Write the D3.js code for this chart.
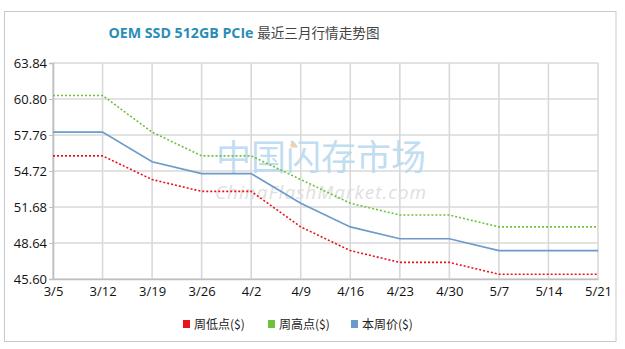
<!DOCTYPE html>
<html>
<head>
<meta charset="utf-8">
<script src="https://cdn.jsdelivr.net/npm/d3@7"></script>
<style>
  html, body { margin: 0; padding: 0; background: #fff; }
  svg { display: block; }
</style>
</head>
<body>
<svg id="chart" width="625" height="349"></svg>
<script>
// Weekly dates and prices (USD)
const dates = ["3/5","3/12","3/19","3/26","4/2","4/9","4/16","4/23","4/30","5/7","5/14","5/21"];
const weekLow  = [56, 56, 54, 53, 53, 50, 48, 47, 47, 46, 46, 46];
const weekHigh = [61.1, 61.1, 58, 56, 56, 54, 52, 51, 51, 50, 50, 50];
const thisWeek = [58, 58, 55.5, 54.5, 54.5, 52, 50, 49, 49, 48, 48, 48];
const yTicks = [45.60, 48.64, 51.68, 54.72, 57.76, 60.80, 63.84];

const series = [
  { name: "周低点($)", values: weekLow,  color: "#e8141b", dash: "2,2", width: 1.6 },
  { name: "周高点($)", values: weekHigh, color: "#6cc23a", dash: "2,2", width: 1.6 },
  { name: "本周价($)", values: thisWeek, color: "#6b9acb", dash: null,  width: 1.6 }
];

const svg = d3.select("#chart");
const plotLeft = 53, plotRight = 598, plotTop = 63, plotBottom = 279;

// outer frame
svg.append("rect")
  .attr("x", 4.5).attr("y", 11.5).attr("width", 611.5).attr("height", 330)
  .attr("fill", "none").attr("stroke", "#c9c9c9").attr("stroke-width", 1);

// title
const title = svg.append("text")
  .attr("x", 244).attr("y", 38).attr("text-anchor", "middle");
title.append("tspan").text("OEM SSD 512GB PCIe ")
  .attr("fill", "#2a8db6").style("font-weight", "bold")
  .style("font-size", "14.2px")
  .style("font-family", "'Open Sans', 'Noto Sans', sans-serif");
title.append("tspan").text("最近三月行情走势图")
  .attr("fill", "#444").style("font-size", "13.6px")
  .style("font-family", "'Noto Sans CJK SC', sans-serif");

const x = d3.scalePoint().domain(dates).range([plotLeft, plotRight]);
const y = d3.scaleLinear().domain([45.60, 63.84]).range([plotBottom, plotTop]);

// gridlines
const grid = svg.append("g");
grid.selectAll("line.h").data(yTicks).join("line").attr("class", "h")
  .attr("x1", plotLeft).attr("x2", plotRight)
  .attr("y1", d => y(d)).attr("y2", d => y(d))
  .attr("stroke", "#d9d9d9").attr("stroke-width", 1.6);
grid.selectAll("line.v").data(dates).join("line").attr("class", "v")
  .attr("x1", d => x(d)).attr("x2", d => x(d))
  .attr("y1", plotTop).attr("y2", plotBottom)
  .attr("stroke", "#d9d9d9").attr("stroke-width", 1.6);

// watermark
svg.append("text")
  .attr("x", 321).attr("y", 170).attr("text-anchor", "middle")
  .attr("fill", "#b9d9f0").attr("fill-opacity", 0.9)
  .style("font-family", "'Noto Sans CJK SC', sans-serif")
  .style("font-size", "35px")
  .text("中国闪存市场");
svg.append("circle").attr("cx", 293).attr("cy", 145).attr("r", 2.6)
  .attr("fill", "#f7cf9a");
svg.append("text")
  .attr("x", 321).attr("y", 199).attr("text-anchor", "middle")
  .attr("fill", "#e0e0e0")
  .style("font-family", "'Open Sans', sans-serif").style("font-style", "italic")
  .style("font-size", "19px").style("letter-spacing", "1px")
  .text("ChinaFlashMarket.com");

// axes
const yAxis = svg.append("g").attr("transform", `translate(${plotLeft},0)`)
  .call(d3.axisLeft(y).tickValues(yTicks).tickFormat(d3.format(".2f")).tickSize(4).tickPadding(2));
const xAxis = svg.append("g").attr("transform", `translate(0,${plotBottom})`)
  .call(d3.axisBottom(x).tickSize(0).tickPadding(8));
[yAxis, xAxis].forEach(a => {
  a.select(".domain").attr("stroke", "#bfbfbf").attr("stroke-width", 1.6);
  a.selectAll(".tick line").attr("stroke", "#bfbfbf");
  a.selectAll("text").attr("fill", "#111")
    .style("font-family", "'Open Sans', sans-serif").style("font-size", "13px");
});

// lines
const line = d3.line().x((d, i) => x(dates[i])).y(d => y(d));
svg.append("g").selectAll("path").data(series).join("path")
  .attr("d", d => line(d.values))
  .attr("fill", "none")
  .attr("stroke", d => d.color)
  .attr("stroke-width", d => d.width)
  .attr("stroke-dasharray", d => d.dash);

// legend
const legendX = [183, 268, 351];
const lg = svg.append("g").selectAll("g").data(series).join("g")
  .attr("transform", (d, i) => `translate(${legendX[i]},320)`);
lg.append("rect").attr("width", 7).attr("height", 8)
  .attr("fill", d => d.color);
lg.append("text").attr("x", 11).attr("y", 8.5)
  .attr("fill", "#222")
  .style("font-family", "'Noto Sans CJK SC', sans-serif").style("font-size", "12px")
  .text(d => d.name);
</script>
</body>
</html>
